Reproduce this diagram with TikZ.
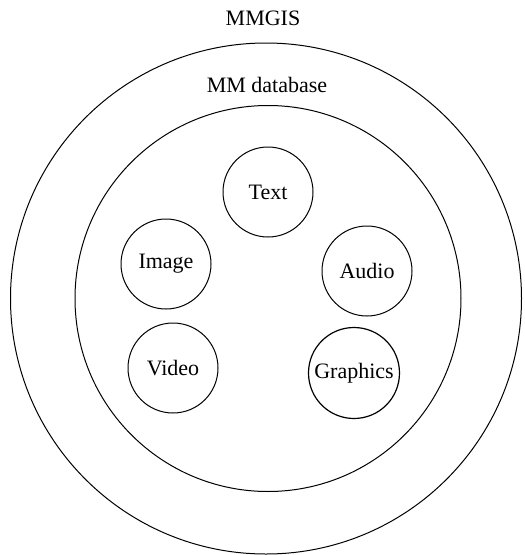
\documentclass[tikz,border=0pt]{standalone}
\usepackage{fontspec}
\setmainfont{Liberation Serif}
\begin{document}
\begin{tikzpicture}[x=1pt,y=-1pt,
  lbl/.style={font=\fontsize{22}{26}\selectfont, inner sep=0pt},
  ring/.style={draw, circle, line width=1pt, inner sep=0pt},
  media/.style={draw, circle, line width=1pt, inner sep=0pt, minimum size=90pt, font=\fontsize{22}{26}\selectfont}]
\useasboundingbox (0,0) rectangle (525,555);
\node[ring, minimum size=511pt] (mmgis) at (266,298.5) {};
\node[ring, minimum size=386pt] (mmdb) at (268,298.5) {};
\node[lbl] (mmgislbl) at (263,18) {MMGIS};
\node[lbl] (mmdblbl) at (267,85) {MM database};
\node[media] (text) at (268,192) {Text};
\node[media] (image) at (166,264) {Image};
\node[media] (audio) at (367,271) {Audio};
\node[media] (video) at (173,368) {Video};
\node[media, line width=1.2pt, minimum size=91pt] (graphics) at (354,373) {Graphics};
\end{tikzpicture}
\end{document}
